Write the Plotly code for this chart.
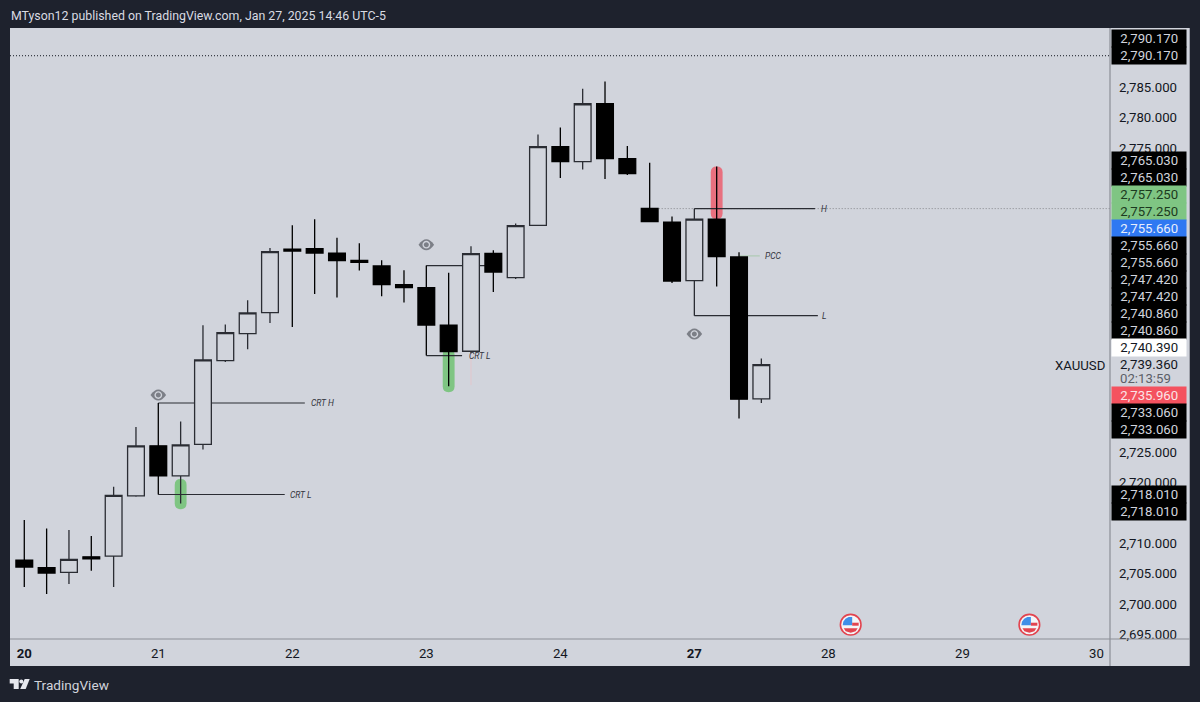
import plotly.graph_objects as go

# candles (one per 4h)
opens = [2707.23, 2705.97, 2705.21, 2707.77, 2707.89, 2717.80, 2726.01, 2721.08, 2726.24, 2740.04,
         2744.48, 2747.93, 2758.38, 2758.45, 2757.72, 2756.53, 2755.59, 2752.53, 2752.04, 2745.85,
         2741.57, 2757.68, 2753.68, 2762.28, 2775.21, 2772.74, 2782.27, 2773.24, 2765.07, 2762.82,
         2753.19, 2763.31, 2757.07, 2733.73]
highs = [2713.80, 2712.44, 2712.16, 2711.18, 2719.28, 2729.13, 2733.06, 2730.02, 2745.85, 2745.96,
         2749.95, 2758.55, 2762.28, 2763.26, 2760.25, 2759.32, 2756.53, 2754.88, 2755.66, 2754.50,
         2758.83, 2758.17, 2762.56, 2777.23, 2778.38, 2784.74, 2785.94, 2775.31, 2772.58, 2763.75,
         2765.03, 2771.97, 2757.84, 2740.39]
lows = [2702.80, 2701.65, 2703.29, 2705.47, 2702.80, 2717.63, 2718.01, 2716.55, 2725.42, 2739.81,
        2741.90, 2746.22, 2745.57, 2750.99, 2750.40, 2754.83, 2750.61, 2749.57, 2740.86, 2735.82,
        2741.24, 2751.32, 2753.45, 2762.16, 2770.05, 2771.48, 2769.88, 2770.54, 2762.88, 2752.80,
        2747.42, 2752.20, 2730.51, 2733.06]
closes = [2706.08, 2705.10, 2707.35, 2707.45, 2717.86, 2726.01, 2721.08, 2726.18, 2740.14, 2744.65,
          2747.87, 2757.95, 2758.05, 2757.72, 2756.48, 2756.20, 2752.53, 2752.04, 2745.89, 2741.52,
          2757.63, 2754.60, 2762.23, 2775.21, 2772.74, 2782.27, 2773.24, 2770.77, 2762.88, 2753.12,
          2763.31, 2757.13, 2733.69, 2739.36]

day_ticks = [0, 6, 12, 18, 24, 30, 36, 42, 48]
day_labels = ["<b>20</b>", "21", "22", "23", "24", "<b>27</b>", "28", "29", "30"]
price_ticks = [2785, 2780, 2775, 2725, 2720, 2710, 2705, 2700, 2695]

# price scale tags, top to bottom
tag_texts = ["2,790.170", "2,790.170", "2,765.030", "2,765.030", "2,757.250", "2,757.250", "2,755.660",
             "2,755.660", "2,755.660", "2,747.420", "2,747.420", "2,740.860", "2,740.860", "2,740.390",
             "2,735.960", "2,733.060", "2,733.060", "2,718.010", "2,718.010"]
tag_kinds = ["k", "k", "k", "k", "g", "g", "b", "k", "k", "k", "k", "k", "k", "w", "r", "k", "k", "k", "k"]
tag_rows = [38.3, 55.2, 160, 177, 194, 211, 228, 245, 262, 279, 296, 313, 330.5, 347.7,
            395.3, 412.7, 429.7, 494.3, 511.6]

TOP, BOTTOM, LEFT, RIGHT = 27.5, 639, 10.3, 1110
BG = "#d1d4dc"
DARK = "#1e222d"
INK = "#131722"
LINE = "#2a2c33"
FONT = "Roboto"
kinds = {"k": ("#000000", "#d1d4dc"), "g": ("#7fc583", "#1c3a20"), "b": ("#2f78f2", "#e8eefc"),
         "w": ("#ffffff", INK), "r": ("#f4525f", "#fbe4e6")}


def px(x):
    return (x - LEFT) / (RIGHT - LEFT)


def py(y):
    return 1 - (y - TOP) / (BOTTOM - TOP)


def level(i0, i1, price, color=LINE, width=1.2, dash="solid"):
    return dict(type="line", x0=i0, x1=i1, y0=price, y1=price, layer="below",
                line=dict(color=color, width=width, dash=dash))


def pill(i, top, bottom, color):
    # rounded highlight behind a wick
    rx, ry = 0.265, 0.97
    path = (f"M{i - rx},{top - ry} Q{i - rx},{top} {i},{top} Q{i + rx},{top} {i + rx},{top - ry} "
            f"L{i + rx},{bottom + ry} Q{i + rx},{bottom} {i},{bottom} Q{i - rx},{bottom} {i - rx},{bottom + ry} Z")
    return dict(type="path", path=path, fillcolor=color, line=dict(width=0), layer="below")


def sized(i, price, path, fill, line=None):
    return dict(type="path", path=path, xsizemode="pixel", ysizemode="pixel", xanchor=i, yanchor=price,
                fillcolor=fill, line=line or dict(width=0), layer="above")


def circle(r):
    k = 0.5523 * r
    return (f"M{-r},0 C{-r},{k} {-k},{r} 0,{r} C{k},{r} {r},{k} {r},0 "
            f"C{r},{-k} {k},{-r} 0,{-r} C{-k},{-r} {-r},{-k} {-r},0 Z")


def eye(i, price):
    gray = "#7c7f87"
    return [
        sized(i, price, "M-7.8,0 Q0,11 7.8,0 Q0,-11 -7.8,0 Z", gray),
        sized(i, price, circle(3.9), BG),
        sized(i, price, circle(2.5), gray),
    ]


def flag(i, price):
    red = "#e2444f"
    return [
        sized(i, price, circle(10.3), "#f4f5f7", dict(color=red, width=1.6)),
        sized(i, price, "M-8,-0.5 L1.5,-0.5 L1.5,7.8 L-2,7.6 L-5.2,6 L-7.4,3 Z", "#3f8fe8"),
        sized(i, price, "M1.5,2 L8,2 L8,-1 L1.5,-1 Z", red),
        sized(i, price, "M-7,-3.5 L7,-3.5 L5,-6.6 L0,-8 L-5,-6.6 Z", red),
    ]


shapes = [
    # panel behind plot and scales
    dict(type="rect", xref="paper", yref="paper", x0=px(LEFT), x1=px(1189.7), y0=py(666), y1=py(TOP),
         fillcolor=BG, line=dict(width=0), layer="below"),
    pill(7, 2720.55, 2715.6, "#7fc583"),
    pill(19, 2741.95, 2734.84, "#7fc583"),
    pill(31, 2771.97, 2763.31, "#e8707f"),
    level(-0.64, 48.61, 2790.17, INK, 1, "1px,2px"),
    level(28, 48.61, 2765.03, "#85878d", 1, "1px,2px"),
    level(6, 12.56, 2733.06),
    level(6, 11.66, 2718.01),
    level(18, 21, 2755.66),
    level(18, 19.6, 2740.86),
    level(30, 35.4, 2765.03),
    level(30, 35.53, 2747.42),
    level(32, 32.93, 2757.25, "#a8c9ab", 1),
    dict(type="line", x0=20, x1=20, y0=2741.4, y1=2736, layer="below", line=dict(color="#e2c6cc", width=1)),
    # axis rules
    dict(type="line", xref="paper", yref="paper", x0=1, x1=1, y0=py(666), y1=py(TOP),
         line=dict(color="#8b8e96", width=1.2), layer="above"),
    dict(type="line", xref="paper", yref="paper", x0=0, x1=px(1189.7), y0=0, y1=0,
         line=dict(color="#8b8e96", width=1.2), layer="above"),
]
shapes += eye(6, 2734.36) + eye(18, 2759.1) + eye(30, 2744.4)
shapes += flag(37, 2696.6) + flag(45, 2696.6)

# TradingView logo in the footer
for pts in [[(10, 679), (19, 679), (19, 689), (14, 689), (14, 683.5), (10, 683.5)],
            [(25, 679), (30, 679), (26, 689), (20.5, 689)]]:
    path = "M" + " L".join(f"{px(a)},{py(b)}" for a, b in pts) + " Z"
    shapes.append(dict(type="path", xref="paper", yref="paper", path=path, fillcolor="#e6e8ee",
                       line=dict(width=0), layer="above"))
shapes.append(dict(type="circle", xref="paper", yref="paper", x0=px(19.6), x1=px(23.6), y0=py(683.5), y1=py(679.5),
                   fillcolor="#e6e8ee", line=dict(width=0), layer="above"))

annotations = []
for t, k, row in zip(tag_texts, tag_kinds, tag_rows):
    fill, ink = kinds[k]
    annotations.append(dict(text=t, xref="paper", yref="paper", x=px(1110.6), y=py(row), xanchor="left",
                            yanchor="middle", width=74.4, height=17.2, align="center", valign="middle",
                            showarrow=False, bgcolor=fill, borderpad=0,
                            font=dict(family=FONT, size=13.2, color=ink)))


def free_text(text, x, y, anchor="left", size=13.2, color=INK, family=FONT):
    annotations.append(dict(text=text, xref="paper", yref="paper", x=px(x), y=py(y), xanchor=anchor,
                            yanchor="middle", showarrow=False, borderpad=0,
                            font=dict(family=family, size=size, color=color)))


free_text("MTyson12 published on TradingView.com, Jan 27, 2025 14:46 UTC-5", 10, 15.5, size=12.35, color="#d9dbe2")
free_text("TradingView", 33.5, 685, size=13.6, color="#d1d4dc")
free_text("XAUUSD", 1106, 365, anchor="right")
free_text("2,739.360", 1119, 364.7)
free_text("02:13:59", 1119, 378.3, color="#5c5f68")

for text, i, price in [("CRT H", 12.8, 2733.06), ("CRT L", 11.83, 2718.01), ("CRT L", 19.85, 2740.86),
                       ("PCC", 33.1, 2757.25), ("H", 35.62, 2765.03), ("L", 35.67, 2747.42)]:
    annotations.append(dict(text=f"<i>{text}</i>", x=i, y=price, xanchor="left", yanchor="middle", showarrow=False,
                            borderpad=0, font=dict(family=FONT, size=8.5, color="#33353c")))

fig = go.Figure(go.Candlestick(
    x=list(range(len(opens))),
    open=opens, high=highs, low=lows, close=closes,
    increasing=dict(fillcolor=BG, line=dict(color=LINE, width=1.3)),
    decreasing=dict(fillcolor="#000000", line=dict(color="#000000", width=1.3)),
    whiskerwidth=0,
    showlegend=False,
))

fig.update_layout(
    width=1200,
    height=702,
    autosize=False,
    margin=dict(l=LEFT, r=1200 - RIGHT, t=TOP, b=702 - BOTTOM, pad=0),
    paper_bgcolor=DARK,
    plot_bgcolor="rgba(0,0,0,0)",
    boxmode="overlay",
    boxgap=0.25,
    boxgroupgap=0,
    showlegend=False,
    shapes=shapes,
    annotations=annotations,
    xaxis=dict(range=[-0.64, 48.61], tickmode="array", tickvals=day_ticks, ticktext=day_labels,
               showgrid=False, zeroline=False, showline=False, ticks="", rangeslider=dict(visible=False),
               ticklabelstandoff=5, tickfont=dict(family=FONT, size=13.2, color=INK)),
    yaxis=dict(range=[2694.25, 2794.73], side="right", tickmode="array", tickvals=price_ticks,
               tickformat=",.3f", showgrid=False, zeroline=False, showline=False, ticks="",
               ticklabelstandoff=8, tickfont=dict(family=FONT, size=13.2, color=INK)),
)

# page margin would push the chart 8px off the window
fig.write_html("out.html", config=dict(displayModeBar=False),
               post_script="document.body.style.margin='0';document.body.style.overflow='hidden';")
